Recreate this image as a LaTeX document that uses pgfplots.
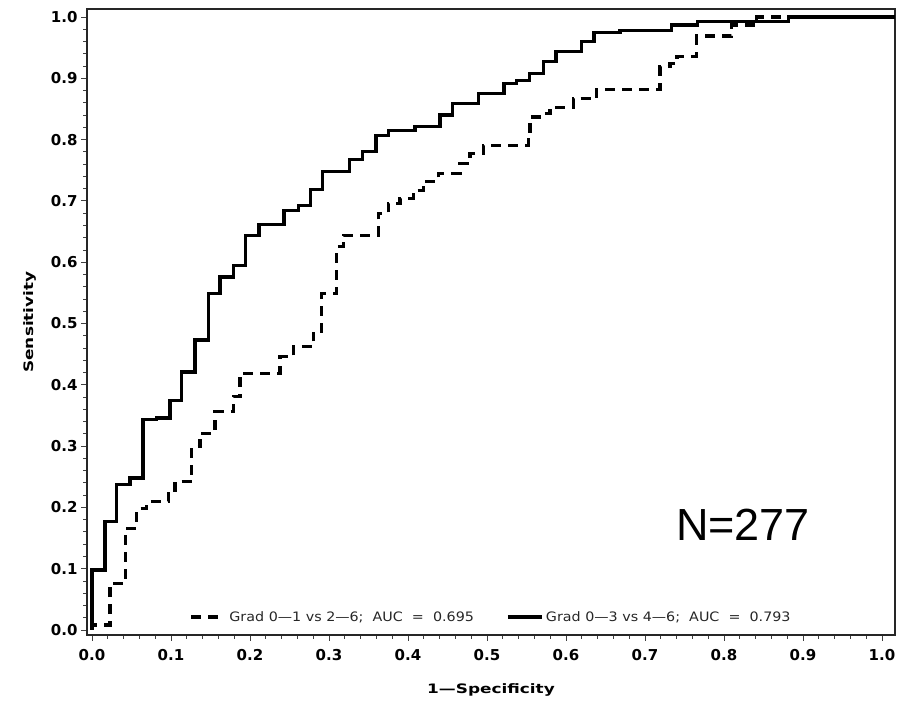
\documentclass[border=0pt]{standalone}
\usepackage{fontspec}
\setmainfont{DejaVu Sans}
\newfontfamily\tickfont{DejaVu Sans Bold}
\newfontfamily\labfont[FakeStretch=1.3]{DejaVu Sans Bold}
\newfontfamily\legfont[FakeStretch=1.1]{DejaVu Sans}
\newfontfamily\nfont{Liberation Sans}
\usepackage{pgfplots}
\pgfplotsset{compat=1.18}

% ROC steps: (x, new sensitivity level after the jump at x)
\newcommand{\gradA}{(0,0) (0,0.008) (0.0228,0.076) (0.0427,0.166) (0.0566,0.198) (0.0692,0.209)
 (0.0966,0.228) (0.1051,0.242) (0.1262,0.299) (0.1367,0.321) (0.1557,0.356) (0.1789,0.381)
 (0.1873,0.419) (0.2380,0.446) (0.2548,0.462) (0.2801,0.484) (0.2908,0.549) (0.3097,0.625)
 (0.3181,0.644) (0.3624,0.680) (0.3751,0.696) (0.3899,0.704) (0.4067,0.717) (0.4194,0.732)
 (0.4384,0.745) (0.4658,0.761) (0.4785,0.778) (0.4953,0.791) (0.5523,0.807) (0.5544,0.837)
 (0.5713,0.842) (0.5797,0.853) (0.6092,0.867) (0.6389,0.882) (0.7190,0.919) (0.7316,0.924)
 (0.7405,0.936) (0.7654,0.969) (0.8097,0.987) (0.8414,1.000) (1.0165,1.000)}
\newcommand{\gradB}{(0,0) (0,0.098) (0.0165,0.177) (0.0313,0.238) (0.0481,0.248) (0.0646,0.343)
 (0.0819,0.346) (0.0987,0.375) (0.1135,0.421) (0.1304,0.473) (0.1472,0.549) (0.1620,0.576)
 (0.1789,0.594) (0.1946,0.644) (0.2114,0.661) (0.2430,0.684) (0.2611,0.692) (0.2768,0.719)
 (0.2915,0.748) (0.3257,0.767) (0.3427,0.780) (0.3595,0.807) (0.3751,0.815) (0.4089,0.822)
 (0.4405,0.840) (0.4566,0.859) (0.4890,0.875) (0.5215,0.892) (0.5376,0.897) (0.5535,0.908)
 (0.5713,0.928) (0.5873,0.944) (0.6199,0.960) (0.6354,0.975) (0.6684,0.978) (0.7338,0.987)
 (0.7662,0.993) (0.8814,1.000) (1.0165,1.000)}

\begin{document}
\begin{tikzpicture}
\useasboundingbox (-87pt,-66pt) rectangle (826pt,635pt);
\begin{axis}[
  at={(0pt,0pt)}, anchor=south west,
  scale only axis, width=808pt, height=626pt,
  xmin=-0.00633, xmax=1.0165, ymin=-0.00816, ymax=1.0131,
  xtick={0,0.1,0.2,0.3,0.4,0.5,0.6,0.7,0.8,0.9,1},
  ytick={0,0.1,0.2,0.3,0.4,0.5,0.6,0.7,0.8,0.9,1},
  xticklabels={0.0,0.1,0.2,0.3,0.4,0.5,0.6,0.7,0.8,0.9,1.0},
  yticklabels={0.0,0.1,0.2,0.3,0.4,0.5,0.6,0.7,0.8,0.9,1.0},
  minor tick num=4,
  tick align=outside, tick pos=left,
  major tick length=6pt, minor tick length=4pt,
  every tick/.style={black!75, line width=0.9pt},
  axis line style={black!85, line width=1.6pt},
  ticklabel style={font=\tickfont\fontsize{15}{15}\selectfont},
  xticklabel style={yshift=-5pt},
  xlabel={1—Specificity}, ylabel={Sensitivity},
  label style={font=\labfont\fontsize{13}{13}\selectfont},
  xlabel style={at={(axis description cs:0.5,-0.088)}, anchor=center},
  ylabel style={at={(axis description cs:-0.0705,0.5)}, anchor=center},
  legend style={at={(axis description cs:0.5,0.029)}, anchor=center, draw=none, fill=none,
    font=\legfont\fontsize{13}{13}\selectfont, text=black!85,
    /tikz/every even column/.append style={column sep=30pt}},
  legend columns=2,
  legend image code/.code={\draw[#1,line width=4pt] (0pt,0pt) -- (34pt,0pt);},
]
\addplot[const plot, black, line width=3.2pt, dash pattern=on 10pt off 7pt] coordinates {\gradA};
\addlegendentry{Grad 0—1 vs 2—6;~~AUC~~=~~0.695}
\addplot[const plot, black, line width=3.2pt] coordinates {\gradB};
\addlegendentry{Grad 0—3 vs 4—6;~~AUC~~=~~0.793}
\node[font=\nfont\fontsize{45}{45}\selectfont] at (axis cs:0.824,0.171) {N=277};
\end{axis}
\end{tikzpicture}
\end{document}
